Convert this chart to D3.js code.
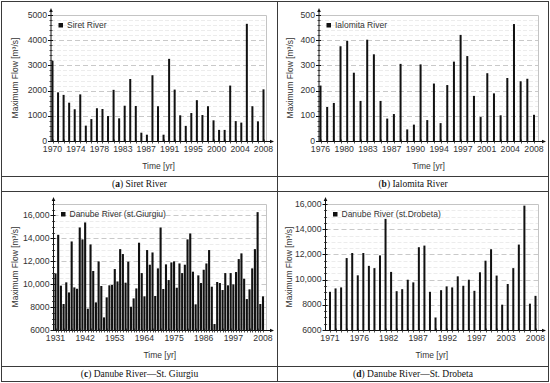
<!DOCTYPE html>
<html>
<head>
<meta charset="utf-8">
<script src="https://cdn.jsdelivr.net/npm/d3@7"></script>
<style>
  body { margin: 0; background: #fff; }
  svg { display: block; font-family: "Liberation Sans", Arial, sans-serif; }
</style>
</head>
<body>
<svg id="chart" width="550" height="383"></svg>
<script>
// Annual maximum flow [m3/s]
const siretStart = 1970;
const siretFlow = [3180, 1930, 1830, 1520, 1260, 1850, 610, 870, 1300, 1270,
  990, 2030, 900, 1400, 2460, 1390, 330, 250, 2610, 1380,
  250, 3260, 2040, 1020, 600, 1110, 1620, 1030, 1380, 820,
  440, 440, 2200, 790, 730, 4650, 1380, 780, 2050];
const siretTicks = [1970, 1974, 1978, 1983, 1987, 1991, 1995, 2000, 2004, 2008];

const ialomitaStart = 1976;
const ialomitaFlow = [220, 135, 151, 376, 397, 271, 159, 402, 344, 159,
  89, 107, 306, 46, 65, 304, 83, 228, 71, 222,
  315, 421, 337, 179, 95, 269, 189, 102, 250, 464,
  237, 247, 104];
const ialomitaTicks = [1976, 1980, 1983, 1987, 1990, 1994, 1997, 2001, 2004, 2008];

const giurgiuStart = 1931;
const giurgiuFlow = [10940, 14310, 9870, 8270, 10160, 9280, 13730, 9720, 9600, 14950,
  13910, 15390, 7860, 13470, 11150, 8410, 11990, 9840, 7100, 8850,
  9900, 9930, 11320, 10240, 13060, 12630, 10130, 11960, 8030, 8760,
  9630, 13620, 10970, 8940, 12980, 11700, 12770, 8970, 11380, 14950,
  9580, 11730, 10360, 11900, 11990, 9690, 11810, 10970, 11700, 13910,
  14430, 11090, 8240, 10770, 10100, 11260, 11810, 12980, 9780, 6520,
  10190, 10100, 9490, 10970, 9900, 10970, 9980, 11060, 12190, 12690,
  10480, 8700, 9550, 11380, 13060, 16290, 8270, 8940];
const giurgiuTicks = [1931, 1942, 1953, 1964, 1975, 1986, 1997, 2008];

const drobetaStart = 1971;
const drobetaFlow = [9030, 9300, 9380, 11710, 12110, 10340, 12110, 11090, 10910, 11920,
  14820, 10610, 9080, 9240, 9990, 9780, 12570, 12700, 9030, 6990,
  9160, 9460, 9380, 10260, 9510, 9990, 9110, 10580, 11500, 12410,
  10320, 8010, 9650, 10910, 12780, 15870, 8090, 8710];
const drobetaTicks = [1971, 1976, 1982, 1987, 1992, 1997, 2003, 2008];

const panels = [
  { letter: "a", caption: " Siret River", legend: "Siret River",
    start: siretStart, values: siretFlow, ticks: siretTicks,
    yDomain: [0, 5000], yStep: 1000, yMinor: 200,
    axisX: 51, x0: 52.5, x1: 263.5, right: 266, top: 15, bottom: 141, titleX: 15 },
  { letter: "b", caption: " Ialomita River", legend: "Ialomita River",
    start: ialomitaStart, values: ialomitaFlow, ticks: ialomitaTicks,
    yDomain: [0, 500], yStep: 100, yMinor: 20,
    axisX: 319, x0: 320.5, x1: 534, right: 538, top: 15, bottom: 141, titleX: 290 },
  { letter: "c", caption: " Danube River\u2014St. Giurgiu", legend: "Danube River (st.Giurgiu)",
    start: giurgiuStart, values: giurgiuFlow, ticks: giurgiuTicks,
    yDomain: [6000, 17000], yStep: 2000, yMinor: 500,
    axisX: 53.5, x0: 55.5, x1: 263, right: 266, top: 204, bottom: 330, titleX: 15 },
  { letter: "d", caption: " Danube River\u2014St. Drobeta", legend: "Danube River (st.Drobeta)",
    start: drobetaStart, values: drobetaFlow, ticks: drobetaTicks,
    yDomain: [6000, 16000], yStep: 2000, yMinor: 500,
    axisX: 325.5, x0: 330, x1: 535.5, right: 538, top: 204, bottom: 330, titleX: 289 },
];

const svg = d3.select("#chart");
const fmt = (v) => (v >= 10000 ? d3.format(",")(v) : String(v));

// Table frame around the four panels
const frame = svg.append("g").attr("stroke", "#3a3a3a").attr("stroke-width", 1).attr("fill", "none");
frame.append("rect").attr("x", 1.5).attr("y", 1.5).attr("width", 547).attr("height", 380);
frame.append("line").attr("x1", 277.5).attr("x2", 277.5).attr("y1", 1.5).attr("y2", 381.5);
[176.5, 191.5, 366.5].forEach((y) =>
  frame.append("line").attr("x1", 1.5).attr("x2", 548.5).attr("y1", y).attr("y2", y));

// Captions
const captions = svg.append("g")
  .attr("font-family", "'Palatino Linotype', 'Book Antiqua', 'Liberation Serif', serif")
  .attr("font-size", "9.5px").attr("fill", "#111").attr("text-anchor", "middle");
panels.forEach((p, i) => {
  const cx = i % 2 === 0 ? 139.5 : 413;
  const cy = i < 2 ? 187 : 377;
  const t = captions.append("text").attr("x", cx).attr("y", cy);
  t.append("tspan").text("(");
  t.append("tspan").attr("font-weight", "bold").text(p.letter);
  t.append("tspan").text(")" + p.caption);
});

panels.forEach((p) => {
  const n = p.values.length;
  const end = p.start + n - 1;
  const years = d3.range(p.start, end + 1);
  const x = d3.scaleLinear().domain([p.start, end]).range([p.x0, p.x1]);
  const y = d3.scaleLinear().domain(p.yDomain).range([p.bottom, p.top]);
  const g = svg.append("g");

  const major = d3.range(p.yDomain[0], p.yDomain[1] + 1, p.yStep);
  const minor = d3.range(p.yDomain[0], p.yDomain[1] + 1, p.yMinor).filter((v) => !major.includes(v));

  // minor grid (very faint) and major dashed grid
  g.append("g").selectAll("line").data(minor).join("line")
    .attr("x1", p.axisX).attr("x2", p.right)
    .attr("y1", (d) => Math.round(y(d)) + 0.5).attr("y2", (d) => Math.round(y(d)) + 0.5)
    .attr("stroke", "#ececec").attr("stroke-dasharray", "4,2");
  g.append("g").selectAll("line").data(major.filter((v) => v !== p.yDomain[0])).join("line")
    .attr("x1", p.axisX).attr("x2", p.right)
    .attr("y1", (d) => Math.round(y(d)) + 0.5).attr("y2", (d) => Math.round(y(d)) + 0.5)
    .attr("stroke", "#c9c9c9").attr("stroke-dasharray", "5,3");

  // light plot frame (top + right)
  g.append("path")
    .attr("d", `M${p.axisX},${p.top + 0.5}H${p.right + 0.5}V${p.bottom}`)
    .attr("fill", "none").attr("stroke", "#c4c4c4");

  // bars
  const bw = n > 60 ? 2.1 : 2;
  g.append("g").selectAll("rect").data(p.values).join("rect")
    .attr("x", (d, i) => x(p.start + i) - bw / 2)
    .attr("y", (d) => y(d))
    .attr("width", bw)
    .attr("height", (d) => y(p.yDomain[0]) - y(d))
    .attr("fill", "#111");

  // axes lines with arrows
  const ax = g.append("g").attr("stroke", "#111");
  ax.append("line").attr("x1", p.axisX).attr("x2", p.axisX)
    .attr("y1", p.bottom).attr("y2", p.top - 4);
  ax.append("line").attr("x1", p.axisX).attr("x2", p.right + 5)
    .attr("y1", p.bottom + 0.5).attr("y2", p.bottom + 0.5);
  g.append("path")
    .attr("d", `M${p.axisX - 1.8},${p.top - 3}L${p.axisX},${p.top - 7}L${p.axisX + 1.8},${p.top - 3}Z`)
    .attr("fill", "#111");
  g.append("path")
    .attr("d", `M${p.right + 4},${p.bottom - 1.3}L${p.right + 8},${p.bottom + 0.5}L${p.right + 4},${p.bottom + 2.3}Z`)
    .attr("fill", "#111");

  // year ticks across x axis
  g.append("g").selectAll("line").data(years).join("line")
    .attr("x1", (d) => Math.round(x(d)) + 0.5).attr("x2", (d) => Math.round(x(d)) + 0.5)
    .attr("y1", p.bottom - 1.5).attr("y2", p.bottom + 2.5)
    .attr("stroke", "#222").attr("stroke-width", 0.8);

  // y ticks
  g.append("g").selectAll("line").data(minor).join("line")
    .attr("x1", p.axisX - 1.5).attr("x2", p.axisX + 1.5)
    .attr("y1", (d) => Math.round(y(d)) + 0.5).attr("y2", (d) => Math.round(y(d)) + 0.5)
    .attr("stroke", "#222").attr("stroke-width", 0.8);
  g.append("g").selectAll("line").data(major).join("line")
    .attr("x1", p.axisX - 3).attr("x2", p.axisX + 2)
    .attr("y1", (d) => Math.round(y(d)) + 0.5).attr("y2", (d) => Math.round(y(d)) + 0.5)
    .attr("stroke", "#111");

  // y tick labels
  g.append("g").selectAll("text").data(major).join("text")
    .attr("x", p.axisX - 4).attr("y", (d) => y(d)).attr("dy", "0.3em")
    .attr("text-anchor", "end").attr("font-size", "8.7px").attr("fill", "#333")
    .text(fmt);

  // x tick labels, evenly spaced over the span
  const span = end - p.start;
  g.append("g").selectAll("text").data(p.ticks).join("text")
    .attr("x", (d, i) => x(p.start + (i * span) / (p.ticks.length - 1)))
    .attr("y", p.bottom + 11)
    .attr("text-anchor", "middle").attr("font-size", "8.7px").attr("fill", "#333")
    .text((d) => d);

  // axis titles
  g.append("text")
    .attr("transform", `translate(${p.titleX},${(p.top + p.bottom) / 2}) rotate(-90)`)
    .attr("dy", "0.35em").attr("text-anchor", "middle")
    .attr("font-size", "8.5px").attr("fill", "#333")
    .text("Maximum Flow [m\u00b3/s]");
  g.append("text")
    .attr("x", (p.axisX + p.right) / 2).attr("y", p.bottom + 28)
    .attr("text-anchor", "middle").attr("font-size", "8.5px").attr("fill", "#333")
    .text("Time [yr]");

  // legend
  g.append("rect")
    .attr("x", p.axisX + 7.5).attr("y", p.top + 8).attr("width", 4.5).attr("height", 4.5)
    .attr("fill", "#111");
  g.append("text")
    .attr("x", p.axisX + 16).attr("y", p.top + 13)
    .attr("font-size", "8.5px").attr("fill", "#333")
    .text(p.legend);
});
</script>
</body>
</html>
